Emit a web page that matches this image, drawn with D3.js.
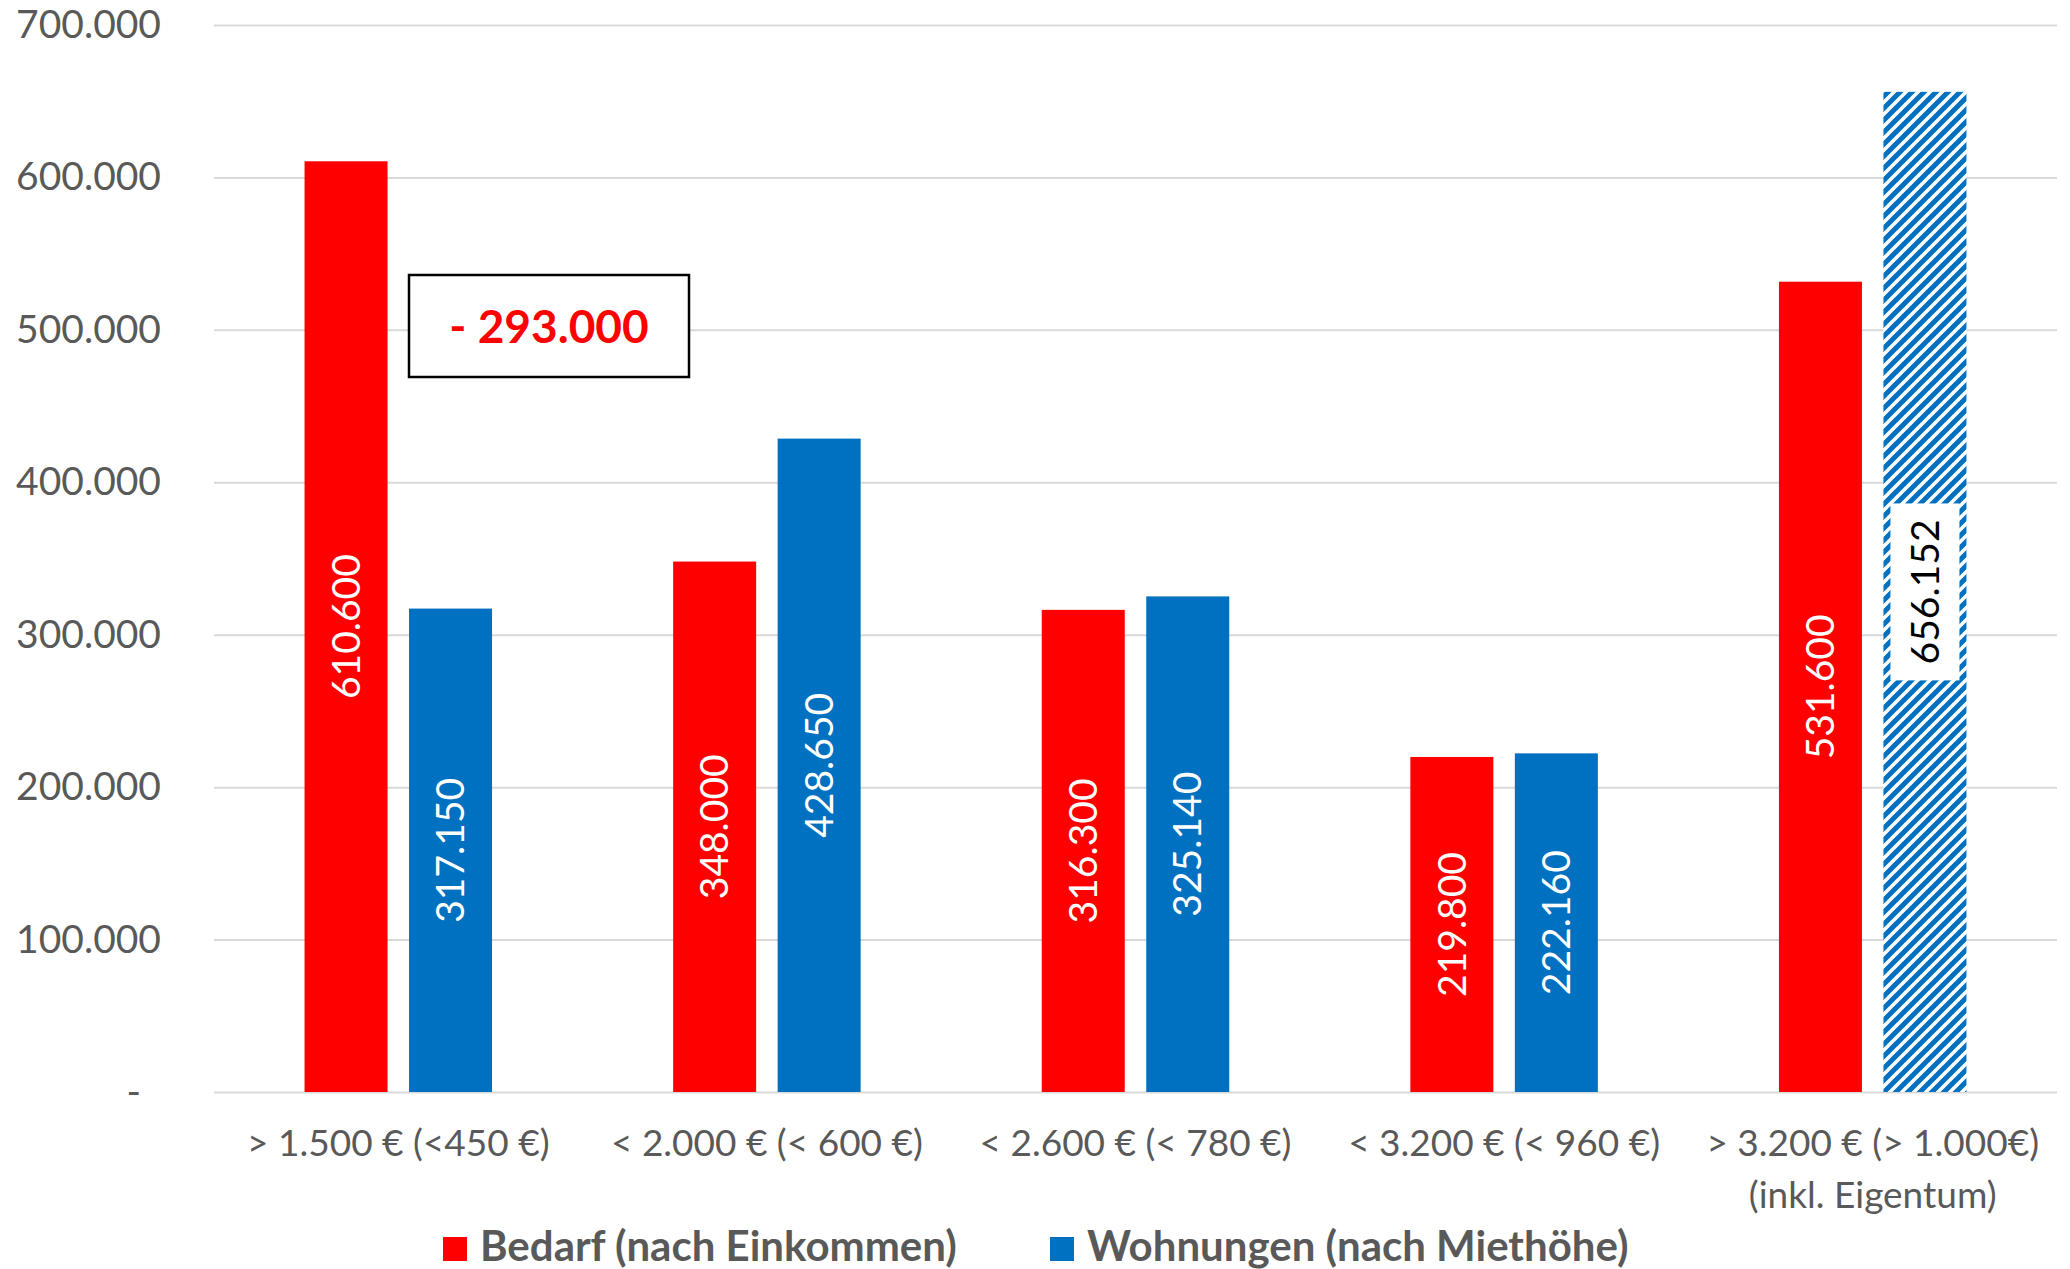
<!DOCTYPE html>
<html>
<head>
<meta charset="utf-8">
<script src="https://cdn.jsdelivr.net/npm/d3@7"></script>
<style>
  html, body { margin: 0; padding: 0; background: #fff; }
  svg { display: block; font-family: "Lato", "Open Sans", sans-serif; }
</style>
</head>
<body>
<svg id="chart" width="2070" height="1269"></svg>
<script>
// ---- data ----
const categories = [
  ["> 1.500 € (<450 €)"],
  ["< 2.000 € (< 600 €)"],
  ["< 2.600 € (< 780 €)"],
  ["< 3.200 € (< 960 €)"],
  ["> 3.200 € (> 1.000€)", "(inkl. Eigentum)"]
];
const seriesNames = ["Bedarf (nach Einkommen)", "Wohnungen (nach Miethöhe)"];
const bedarf = [610600, 348000, 316300, 219800, 531600];
const wohnungen = [317150, 428650, 325140, 222160, 656152];
const yTicks = [0, 100000, 200000, 300000, 400000, 500000, 600000, 700000];
const annotationText = "- 293.000";

// ---- layout ----
const W = 2070, H = 1269;
const plot = { left: 214, right: 2057, top: 25, bottom: 1092 };
const colors = { bedarf: "#FF0000", wohnungen: "#0070C0" };
const axisGrey = "#595959";

const svg = d3.select("#chart");
const locale = d3.formatLocale({ decimal: ",", thousands: ".", grouping: [3], currency: ["", "€"] });
const fmt = locale.format(",d");

const keys = categories.map((c, i) => "c" + i);
const x0 = d3.scaleBand().domain(keys).range([plot.left, plot.right]).paddingInner(0).paddingOuter(0);
const groupW = 187.5;
const x1 = d3.scaleBand().domain(["bedarf", "wohnungen"])
  .range([(x0.bandwidth() - groupW) / 2, (x0.bandwidth() + groupW) / 2])
  .paddingInner(0.2057).paddingOuter(0);
const y = d3.scaleLinear().domain([0, 700000]).range([plot.bottom, plot.top]);

// pattern for hatched bar
const defs = svg.append("defs");
const P = 12;
const p = defs.append("pattern").attr("id", "hatch")
  .attr("patternUnits", "userSpaceOnUse").attr("width", P).attr("height", P);
p.append("rect").attr("width", P).attr("height", P).attr("fill", "#fff");
p.append("path")
  .attr("d", `M${-P/4},${P/4} L${P/4},${-P/4} M0,${P} L${P},0 M${P*0.75},${P*1.25} L${P*1.25},${P*0.75}`)
  .attr("stroke", colors.wohnungen).attr("stroke-width", 5);

// y axis with gridlines
const yAxis = svg.append("g").attr("transform", `translate(${plot.left},0)`)
  .call(d3.axisLeft(y).tickValues(yTicks).tickSize(-(plot.right - plot.left)).tickPadding(53)
    .tickFormat(d => d === 0 ? "-" : fmt(d)));
yAxis.select(".domain").remove();
yAxis.selectAll(".tick line").attr("stroke", "#d9d9d9").attr("stroke-width", 2);
yAxis.selectAll(".tick text").attr("fill", axisGrey).attr("font-size", 39)
  .attr("font-family", "Lato, sans-serif")
  .attr("dx", d => d === 0 ? -20 : 0);

// x axis labels
const xAxis = svg.append("g").attr("transform", `translate(0,${plot.bottom})`)
  .call(d3.axisBottom(x0).tickSize(0).tickFormat(""));
xAxis.select(".domain").remove();
xAxis.selectAll(".tick").each(function (d, i) {
  const t = d3.select(this).append("text")
    .attr("fill", axisGrey).attr("font-size", 37).attr("text-anchor", "middle")
    .attr("font-family", "Lato, sans-serif");
  categories[i].forEach((line, j) => {
    t.append("tspan").attr("x", 0).attr("y", 64 + j * 52).text(line);
  });
});

// bars
const rows = categories.map((c, i) => ({ key: keys[i], bedarf: bedarf[i], wohnungen: wohnungen[i], i }));
const g = svg.append("g");
rows.forEach(r => {
  ["bedarf", "wohnungen"].forEach(s => {
    const v = r[s];
    const bx = x0(r.key) + x1(s);
    const hatched = (s === "wohnungen" && r.i === categories.length - 1);
    g.append("rect")
      .attr("x", bx).attr("y", y(v))
      .attr("width", x1.bandwidth()).attr("height", y(0) - y(v))
      .attr("fill", hatched ? "url(#hatch)" : colors[s]);
    const cx = bx + x1.bandwidth() / 2;
    const cy = (y(v) + y(0)) / 2;
    const lg = g.append("g").attr("transform", `translate(${cx},${cy}) rotate(-90)`);
    const txt = lg.append("text")
      .attr("text-anchor", "middle").attr("dy", "0.35em")
      .attr("font-size", 39).attr("font-family", "Lato, sans-serif")
      .attr("fill", hatched ? "#000" : "#fff")
      .text(fmt(v));
    if (hatched) {
      const len = txt.node().getComputedTextLength();
      lg.insert("rect", "text")
        .attr("x", -len / 2 - 16).attr("y", -34.5)
        .attr("width", len + 32).attr("height", 69)
        .attr("fill", "#fff");
    }
  });
});

// annotation box
const ann = svg.append("g");
ann.append("rect")
  .attr("x", 409).attr("y", 275).attr("width", 280).attr("height", 102)
  .attr("fill", "#fff").attr("stroke", "#000").attr("stroke-width", 2.5);
ann.append("text")
  .attr("x", 549).attr("y", 326).attr("dy", "0.36em")
  .attr("text-anchor", "middle").attr("font-size", 46).attr("font-weight", "bold")
  .attr("font-family", "Lato, sans-serif")
  .attr("fill", "#FF0000").text(annotationText);

// legend
const legend = svg.append("g");
const legendItems = [
  { name: seriesNames[0], color: colors.bedarf, x: 443 },
  { name: seriesNames[1], color: colors.wohnungen, x: 1050 }
];
legendItems.forEach(it => {
  legend.append("rect").attr("x", it.x).attr("y", 1237).attr("width", 24).attr("height", 24).attr("fill", it.color);
  legend.append("text").attr("x", it.x + 37).attr("y", 1261)
    .attr("font-size", 42).attr("font-weight", "bold").attr("fill", axisGrey)
    .attr("font-family", "Lato, sans-serif")
    .text(it.name);
});
</script>
</body>
</html>
